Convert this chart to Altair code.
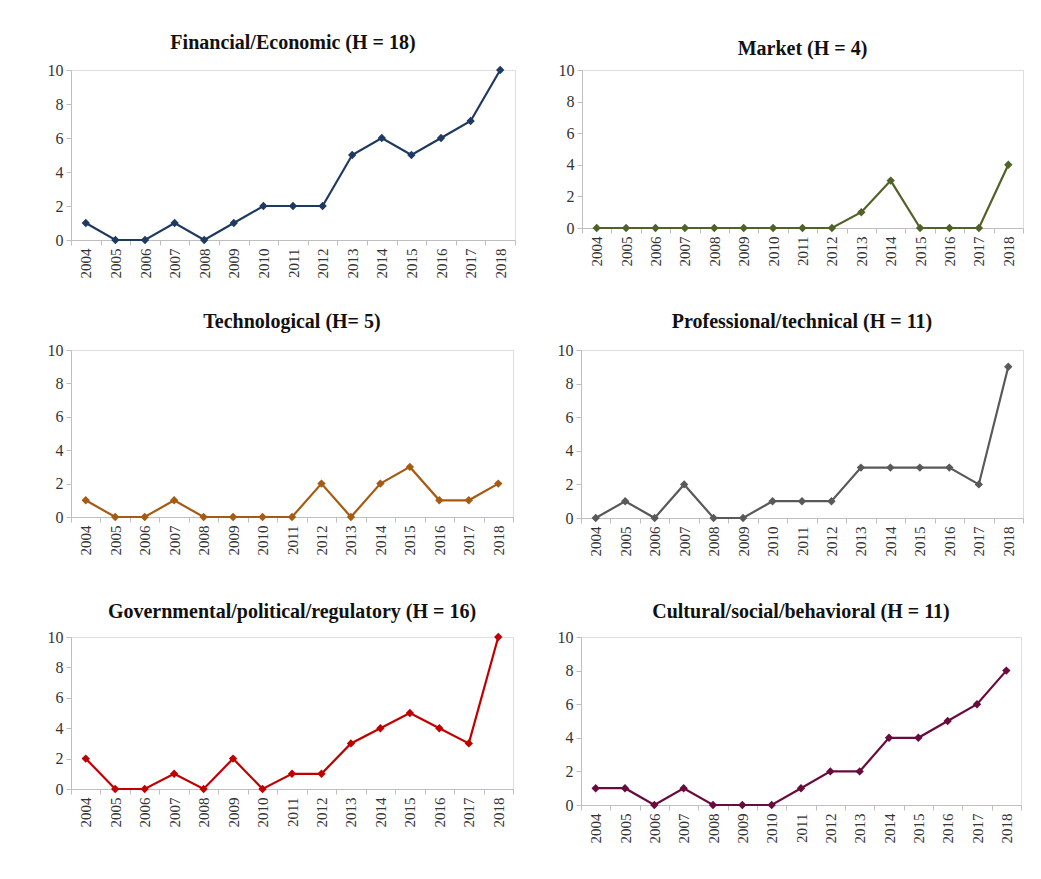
import altair as alt
import pandas as pd

years = [str(y) for y in range(2004, 2019)]

financial = [1, 0, 0, 1, 0, 1, 2, 2, 2, 5, 6, 5, 6, 7, 10]
market = [0, 0, 0, 0, 0, 0, 0, 0, 0, 1, 3, 0, 0, 0, 4]
technological = [1, 0, 0, 1, 0, 0, 0, 0, 2, 0, 2, 3, 1, 1, 2]
professional = [0, 1, 0, 2, 0, 0, 1, 1, 1, 3, 3, 3, 3, 2, 9]
governmental = [2, 0, 0, 1, 0, 2, 0, 1, 1, 3, 4, 5, 4, 3, 10]
cultural = [1, 1, 0, 1, 0, 0, 0, 1, 2, 2, 4, 4, 5, 6, 8]

titles = [
    "Financial/Economic (H = 18)",
    "Market (H = 4)",
    "Technological (H= 5)",
    "Professional/technical (H = 11)",
    "Governmental/political/regulatory (H = 16)",
    "Cultural/social/behavioral (H = 11)",
]
series = [financial, market, technological, professional, governmental, cultural]
colors = ["#1F3A60", "#4F6228", "#A65A12", "#595959", "#C00000", "#6B0A3C"]

FONT = "Liberation Serif"
LFONT = "Times New Roman"


def panel(i, width, height, offset):
    df = pd.DataFrame({"year": years, "value": series[i]})
    base = alt.Chart(df).encode(
        x=alt.X(
            "year:O",
            sort=years,
            scale=alt.Scale(type="band", paddingInner=0, paddingOuter=0),
            axis=alt.Axis(
                title=None,
                labelAngle=-90,
                labelFont=LFONT,
                labelFontSize=15,
                labelFontWeight="normal",
                labelColor="#333333",
                labelPadding=3,
                tickBand="extent",
                tickColor="#BFBFBF",
                domainColor="#BFBFBF",
                tickSize=5,
                labelBaseline="middle",
                labelAlign="right",
            ),
        ),
        y=alt.Y(
            "value:Q",
            scale=alt.Scale(domain=[0, 10]),
            axis=alt.Axis(
                title=None,
                values=[0, 2, 4, 6, 8, 10],
                labelFont=LFONT,
                labelFontSize=16,
                labelFontWeight="normal",
                labelColor="#333333",
                labelPadding=3,
                tickColor="#BFBFBF",
                domainColor="#BFBFBF",
                tickSize=5,
                grid=False,
            ),
        ),
    )
    line = base.mark_line(color=colors[i], strokeWidth=2.2)
    pts = base.mark_point(shape="diamond", filled=True, size=70, color=colors[i], opacity=1)
    return (line + pts).properties(
        width=width,
        height=height,
        title=alt.TitleParams(
            titles[i], font=FONT, fontSize=20, fontWeight="bold", color="#111111",
            anchor="middle", offset=offset,
        ),
    )


row1 = alt.hconcat(panel(0, 444, 170, 9), panel(1, 441, 158, 3), spacing=41)
row2 = alt.hconcat(panel(2, 442, 167, 10), panel(3, 442, 168, 10), spacing=42)
row3 = alt.hconcat(panel(4, 442, 152, 7), panel(5, 440, 168, 7), spacing=42)

top = alt.vconcat(row1, row2, spacing=32)
chart = (
    alt.vconcat(top, row3, spacing=44)
    .properties(padding={"left": 38, "top": 24, "right": 5, "bottom": 5})
    .configure_view(stroke=None)
    .configure(background="white", font=FONT)
)

chart.save("out.html", embed_options={"renderer": "svg", "actions": False})
